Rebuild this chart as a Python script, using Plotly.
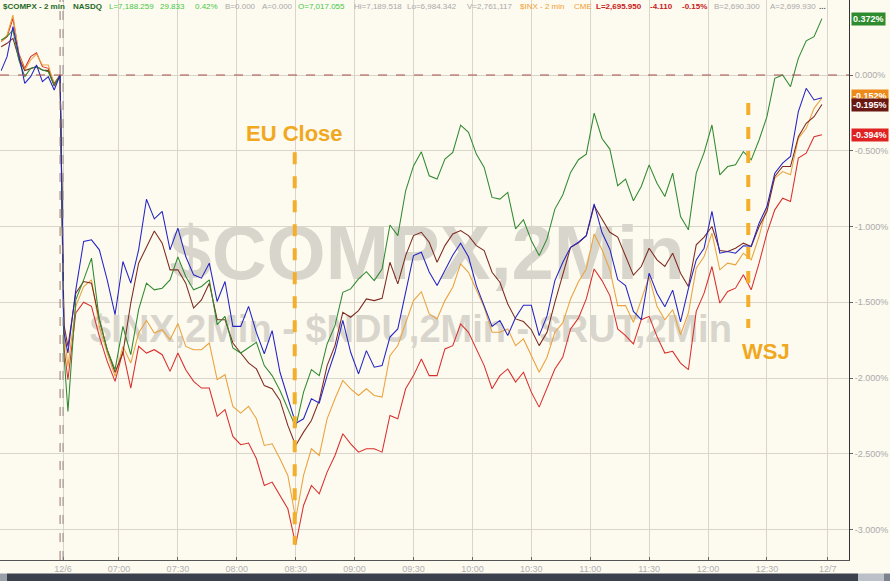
import plotly.graph_objects as go

# ---------------- data (minutes from 06:30 on 12/6; negatives = prior session tail) -------------
pre_times = [-30, -27, -24, -21, -18, -15, -12, -9, -6, -3, 0]
session_times = [2] + list(range(4, 389, 4))

compx_pre = [0.231, 0.253, 0.297, 0.099, -0.011, 0.044, 0.055, 0.033, 0.022, -0.066, 0.0]
compx = [-1.85,
         -2.22, -1.484, -1.352, -1.209, -1.615, -1.813, -1.945, -1.659, -1.846, -1.549,
         -1.374, -1.418, -1.407, -1.352, -1.20, -1.33, -1.418, -1.396, -1.352, -1.648,
         -1.593, -1.802, -1.835, -1.80, -1.764, -1.918, -1.984, -2.082, -2.203, -2.324,
         -2.093, -1.944, -1.984, -1.775, -1.654, -1.434, -1.412, -1.346, -1.298, -1.357,
         -1.28, -0.99, -1.06, -0.764, -0.60, -0.507, -0.665, -0.687, -0.555, -0.511,
         -0.331, -0.379, -0.522, -0.61, -0.808, -0.819, -0.775, -1.016, -0.955, -1.093,
         -1.192, -1.082, -0.885, -0.792, -0.643, -0.559, -0.522, -0.252, -0.419, -0.489,
         -0.731, -0.687, -0.83, -0.736, -0.593, -0.714, -0.802, -0.648, -0.934, -1.022,
         -0.648, -0.512, -0.33, -0.659, -0.604, -0.593, -0.505, -0.56, -0.429, -0.275,
         -0.022, 0.0, -0.077, 0.11, 0.226, 0.253, 0.372]

ndu_pre = [0.029, 0.121, 0.319, 0.143, -0.055, -0.011, 0.066, -0.044, -0.011, -0.099, 0.0]
ndu = [-1.70,
       -1.835, -1.418, -1.099, -1.088, -1.154, -1.352, -1.582, -1.231, -1.374, -1.154,
       -0.82, -0.95, -0.90, -1.154, -1.011, -1.198, -1.319, -1.341, -1.242, -1.495,
       -1.363, -1.659, -1.659, -1.527, -1.70, -1.84, -1.687, -1.962, -2.137, -2.30,
       -2.269, -2.137, -2.164, -1.984, -1.83, -1.62, -1.83, -1.973, -1.819, -1.929,
       -1.918, -1.73, -1.676, -1.434, -1.192, -1.17, -1.30, -1.39, -1.29, -1.19,
       -1.11, -1.20, -1.39, -1.52, -1.66, -1.62, -1.72, -1.60, -1.52, -1.52,
       -1.72, -1.59, -1.357, -1.237, -1.137, -1.104, -1.06, -0.85, -1.04, -1.15,
       -1.35, -1.39, -1.56, -1.615, -1.308, -1.44, -1.53, -1.42, -1.63, -1.41,
       -1.22, -1.143, -0.90, -1.176, -1.165, -1.176, -1.127, -1.13, -0.978, -0.868,
       -0.648, -0.582, -0.538, -0.242, -0.088, -0.165, -0.15]

dji_pre = [0.187, 0.209, 0.242, 0.11, 0.029, 0.044, 0.055, 0.033, 0.029, -0.073, 0.0]
dji = [-1.65,
       -1.791, -1.44, -1.363, -1.374, -1.615, -1.813, -1.963, -1.835, -1.505, -1.242,
       -1.132, -1.03, -1.11, -1.286, -1.286, -1.374, -1.538, -1.484, -1.374, -1.615,
       -1.615, -1.769, -1.835, -1.90, -1.94, -2.05, -2.07, -2.148, -2.313, -2.445,
       -2.357, -2.28, -2.148, -1.918, -1.786, -1.566, -1.599, -1.555, -1.478, -1.489,
       -1.474, -1.236, -1.379, -1.192, -1.06, -1.038, -1.104, -1.236, -1.126, -1.049,
       -1.027, -1.06, -1.126, -1.159, -1.302, -1.368, -1.511, -1.61, -1.627, -1.681,
       -1.786, -1.698, -1.50, -1.313, -1.137, -1.108, -1.06, -0.863, -0.951, -1.038,
       -1.07, -1.20, -1.321, -1.264, -1.143, -1.22, -1.264, -1.176, -1.308, -1.396,
       -1.121, -1.07, -1.0, -1.158, -1.165, -1.143, -1.11, -1.132, -1.0, -0.901,
       -0.67, -0.604, -0.604, -0.407, -0.319, -0.275, -0.195]

inx_pre = [0.22, 0.264, 0.396, 0.132, 0.033, 0.099, 0.138, 0.066, 0.066, -0.066, 0.0]
inx = [-1.70,
       -1.923, -1.527, -1.396, -1.352, -1.659, -1.835, -1.989, -1.791, -1.901, -1.703,
       -1.62, -1.703, -1.681, -1.747, -1.64, -1.791, -1.813, -1.813, -1.769, -2.011,
       -1.978, -2.187, -2.231, -2.187, -2.269, -2.445, -2.434, -2.533, -2.643, -2.93,
       -2.643, -2.467, -2.511, -2.269, -2.137, -2.016, -2.071, -2.115, -2.071, -2.115,
       -2.126, -1.852, -1.786, -1.632, -1.489, -1.43, -1.577, -1.61, -1.489, -1.401,
       -1.247, -1.302, -1.412, -1.533, -1.698, -1.698, -1.676, -1.786, -1.742, -1.852,
       -1.962, -1.863, -1.698, -1.636, -1.478, -1.364, -1.28, -1.049, -1.153, -1.285,
       -1.522, -1.522, -1.632, -1.484, -1.33, -1.527, -1.615, -1.549, -1.714, -1.571,
       -1.275, -1.198, -1.044, -1.286, -1.242, -1.253, -1.176, -1.22, -1.066, -0.868,
       -0.681, -0.637, -0.659, -0.418, -0.352, -0.22, -0.152]

rut_pre = [0.22, 0.253, 0.374, 0.143, 0.044, 0.121, 0.147, 0.055, 0.044, -0.055, 0.0]
rut = [-1.80,
       -2.011, -1.571, -1.50, -1.527, -1.725, -1.89, -2.022, -1.824, -2.066, -1.791,
       -1.835, -1.813, -1.846, -1.956, -1.835, -1.945, -2.022, -2.066, -2.066, -2.253,
       -2.209, -2.385, -2.44, -2.429, -2.533, -2.709, -2.687, -2.775, -2.863, -3.10,
       -2.841, -2.709, -2.764, -2.621, -2.511, -2.368, -2.434, -2.489, -2.467, -2.467,
       -2.489, -2.247, -2.269, -2.071, -1.984, -1.874, -1.984, -1.984, -1.808, -1.786,
       -1.643, -1.698, -1.808, -1.918, -2.071, -1.984, -1.94, -2.027, -1.962, -2.093,
       -2.192, -2.071, -1.94, -1.863, -1.676, -1.605, -1.478, -1.28, -1.357, -1.456,
       -1.676, -1.72, -1.775, -1.615, -1.593, -1.725, -1.835, -1.824, -1.901, -1.945,
       -1.56, -1.44, -1.264, -1.505, -1.429, -1.407, -1.319, -1.418, -1.242, -1.044,
       -0.89, -0.813, -0.835, -0.549, -0.516, -0.407, -0.394]

x_tick_vals = [1.5, 30, 60, 90, 120, 150, 180, 210, 240, 270, 300, 330, 360, 391]
x_tick_text = ["12/6", "07:00", "07:30", "08:00", "08:30", "09:00", "09:30", "10:00",
               "10:30", "11:00", "11:30", "12:00", "12:30", "12/7"]
y_tick_vals = [0.0, -0.5, -1.0, -1.5, -2.0, -2.5, -3.0]

header = [
    (1, "$COMPX - 2 min", "#1f6a1f", True), (71, "NASDQ", "#1f6a1f", True),
    (107, "L=7,188.259", "#45c845", False), (158, "29.833", "#45c845", False),
    (193, "0.42%", "#45c845", False), (223, "B=0.000", "#a9a9a9", False),
    (260, "A=0.000", "#a9a9a9", False), (296, "O=7,017.055", "#45c845", False),
    (352, "Hi=7,189.518", "#a9a9a9", False), (405, "Lo=6,984.342", "#a9a9a9", False),
    (465, "V=2,761,117", "#a9a9a9", False), (518, "$INX - 2 min", "#f0a030", False),
    (572, "CME", "#f0a030", False), (594, "L=2,695.950", "#c82020", True),
    (648, "-4.110", "#c82020", True), (680, "-0.15%", "#c82020", True),
    (712, "B=2,690.300", "#a9a9a9", False), (768, "A=2,699.930", "#a9a9a9", False),
    (817, "...", "#555555", True),
]

# ---------------- figure ----------------
BG = "#fdfaf0"
FONT = "Liberation Sans, Arial, sans-serif"
times = pre_times + session_times

fig = go.Figure()

# watermark text (behind lines)
fig.add_trace(go.Scatter(x=[186.9], y=[-1.22], mode="text", text=["<b>$COMPX,2Min</b>"],
                         textfont=dict(family=FONT, size=76, color="#d8d5cc"),
                         hoverinfo="skip", showlegend=False))
fig.add_trace(go.Scatter(x=[178.7], y=[-1.70], mode="text",
                         text=["<b>$INX,2Min - $NDU,2Min - $RUT,2Min</b>"],
                         textfont=dict(family=FONT, size=38, color="#d8d5cc"),
                         hoverinfo="skip", showlegend=False))

series = [
    ("$RUT", rut_pre + rut, "#d92f2b"),
    ("$INX", inx_pre + inx, "#eaa23c"),
    ("$INDU", dji_pre + dji, "#7e2a1e"),
    ("$COMPX", compx_pre + compx, "#2f8a2f"),
    ("$NDU", ndu_pre + ndu, "#2424c4"),
]
for name, vals, col in series:
    fig.add_trace(go.Scatter(x=times, y=vals, mode="lines", name=name,
                             line=dict(color=col, width=1.05), hoverinfo="skip",
                             showlegend=False))

shapes = [
    # header band hides gridlines under the info text
    dict(type="rect", xref="paper", yref="paper", x0=0, x1=1, y0=1 - 12 / 560, y1=1,
         fillcolor=BG, line=dict(width=0), layer="between"),
    # zero line
    dict(type="line", xref="x domain", yref="y", x0=0, x1=1, y0=0, y1=0,
         line=dict(color="#a4514b", width=1, dash="dash")),
    # session break lines
    dict(type="line", xref="x", yref="y domain", x0=0, x1=0, y0=0, y1=1,
         line=dict(color="#a0706a", width=1, dash="dash")),
    dict(type="line", xref="x", yref="y domain", x0=1.5, x1=1.5, y0=0, y1=1,
         line=dict(color="#8c8c8c", width=1, dash="dash")),
    # event markers
    dict(type="line", xref="x", yref="y", x0=119.5, x1=119.5, y0=-0.51, y1=-3.10,
         line=dict(color="#f3ae2c", width=4, dash="dash")),
    dict(type="line", xref="x", yref="y", x0=350.5, x1=350.5, y0=-0.185, y1=-1.67,
         line=dict(color="#f3ae2c", width=4, dash="dash")),
]

# scroll bar strip at the bottom of the page
for x0, x1, col in [(0, 7, "#9aa0a8"), (7, 858, "#3b414c"), (858, 884, "#bcc1c9"), (884, 892, "#7d838c")]:
    shapes.append(dict(type="rect", xref="paper", yref="paper",
                       x0=x0 / 849, x1=x1 / 849, y0=-13.5 / 560, y1=-22 / 560,
                       fillcolor=col, line=dict(width=0), layer="above"))

annotations = []
for px, txt, col, bold in header:
    annotations.append(dict(xref="paper", yref="paper", x=px / 849, y=1, xanchor="left",
                            yanchor="middle", yshift=-6, showarrow=False,
                            text=f"<b>{txt}</b>" if bold else txt,
                            font=dict(family=FONT, size=8, color=col)))

annotations += [
    dict(x=119.5, y=-0.383, xref="x", yref="y", text="<b>EU Close</b>", showarrow=False,
         font=dict(family=FONT, size=22, color="#f0a81e")),
    dict(x=359.5, y=-1.828, xref="x", yref="y", text="<b>WSJ</b>", showarrow=False,
         font=dict(family=FONT, size=22, color="#f0a81e")),
]

value_labels = [(compx[-1], "#2e8b2e", 0), (inx[-1], "#ee8a1a", 2),
                (dji[-1], "#6a1812", 0), (rut[-1], "#e02222", 0)]
for v, col, ysh in value_labels:
    annotations.append(dict(xref="paper", yref="y", x=1, y=v, xanchor="left", xshift=2,
                            yshift=ysh, showarrow=False, text=f"<b>{v:.3f}%</b>",
                            bgcolor=col, borderpad=1,
                            font=dict(family=FONT, size=9, color="white")))

fig.update_layout(
    width=890, height=581,
    margin=dict(l=0, r=41, t=0, b=21, autoexpand=False),
    paper_bgcolor=BG, plot_bgcolor=BG,
    shapes=shapes, annotations=annotations,
    hovermode=False, showlegend=False,
    xaxis=dict(range=[-30.6, 401.8], tickvals=x_tick_vals, ticktext=x_tick_text,
               showgrid=True, gridcolor="#d9d5ca", gridwidth=1, zeroline=False,
               showline=True, linecolor="#555555", linewidth=1,
               ticks="inside", ticklen=3, tickcolor="#666666",
               tickfont=dict(family=FONT, size=9, color="#b0b0b0")),
    yaxis=dict(range=[-3.201, 0.495], side="right", tickvals=y_tick_vals,
               ticktext=[f"{v:.3f}%" for v in y_tick_vals],
               showgrid=True, gridcolor="#d9d5ca", gridwidth=1, zeroline=False,
               showline=True, linecolor="#333333", linewidth=1,
               ticks="outside", ticklen=3, tickcolor="#666666",
               tickfont=dict(family=FONT, size=9, color="#aaaaaa")),
)

fig.write_html("out.html", config={"displayModeBar": False, "staticPlot": True},
               post_script="document.body.style.margin='0';document.body.style.overflow='hidden';")
